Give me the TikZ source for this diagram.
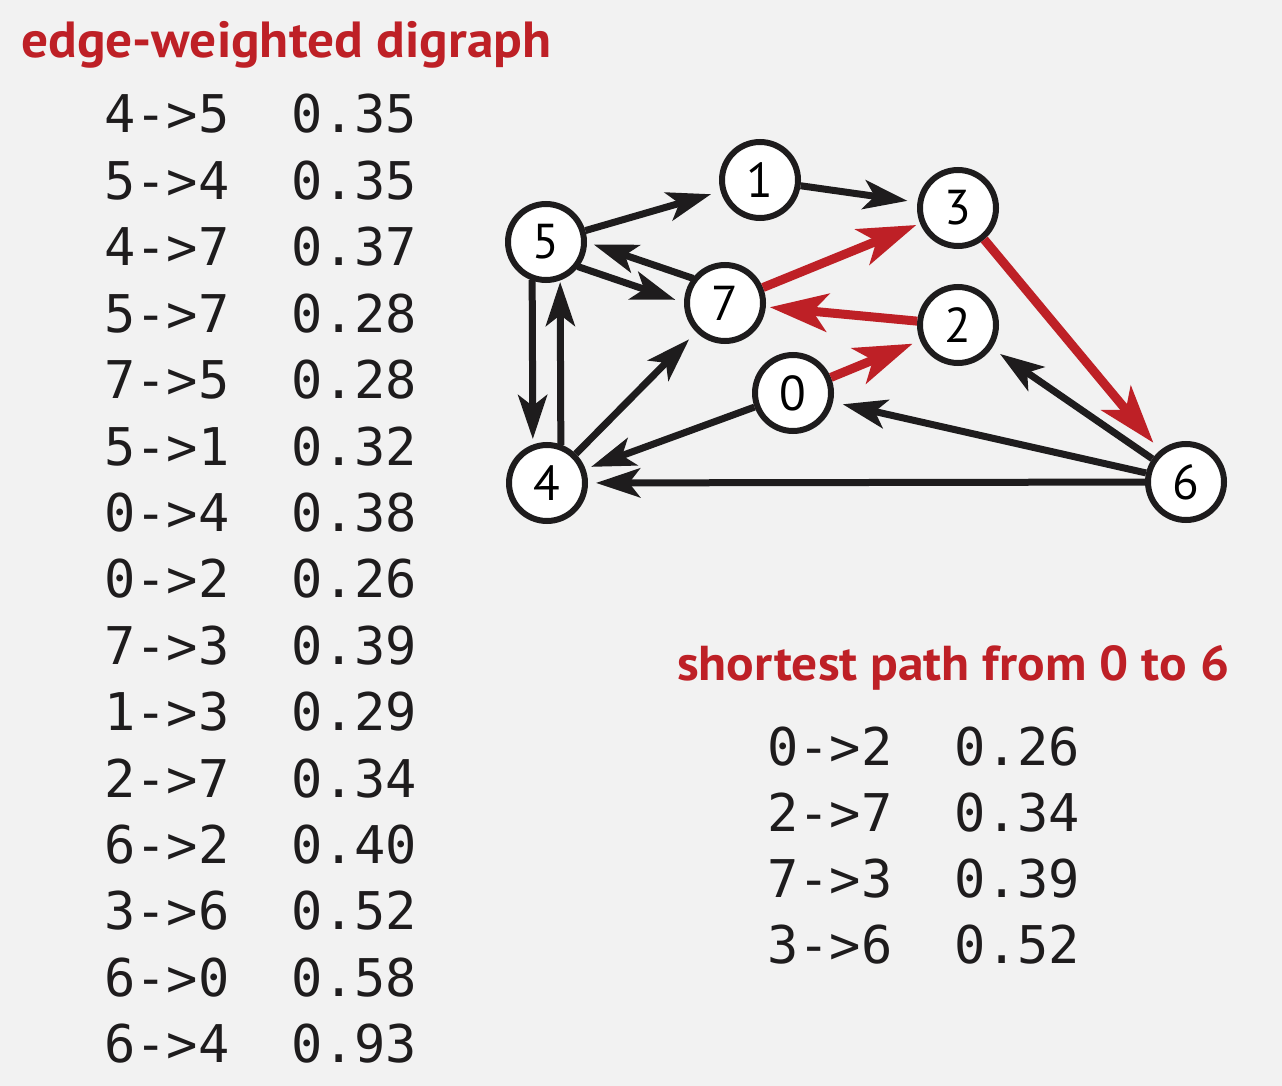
\documentclass[tikz,border=0pt]{standalone}
\usepackage{fontspec}
\setmainfont{PT Sans}
\newfontfamily\monofnt{DejaVu Sans Mono}
\newfontfamily\ttlfnt{PT Sans Bold}[FakeStretch=1.05]
\usetikzlibrary{arrows.meta,calc}
\definecolor{bgc}{RGB}{242,242,242}
\definecolor{redc}{RGB}{190,32,38}
\definecolor{inkc}{RGB}{30,28,29}
\tikzset{
  vtx/.style={circle,draw=inkc,fill=white,line width=6pt,minimum size=76pt,inner sep=0pt,
    font=\fontsize{49}{49}\selectfont},
  edg/.style={draw=inkc,line width=7pt,-{Stealth[length=44pt,width=29pt,inset=11pt]},shorten >=6pt},
  redg/.style={draw=redc,line width=9pt,-{Stealth[length=58pt,width=38pt,inset=15pt]},shorten >=6pt},
  ttl/.style={text=redc,anchor=base west,inner sep=0pt,font=\fontsize{50}{50}\selectfont\ttlfnt},
  row/.style={anchor=base west,inner sep=0pt,text=inkc,font=\fontsize{52}{52}\selectfont\monofnt}
}
\begin{document}
\begin{tikzpicture}[x=1pt,y=-1pt]
\fill[bgc] (0,0) rectangle (1282,1086);
\useasboundingbox (0,0) rectangle (1282,1086);

\node[ttl,font=\fontsize{50.8}{50}\selectfont\ttlfnt] (t1) at (21,58) {edge-weighted digraph};
\node[ttl,font=\fontsize{49}{50}\selectfont\ttlfnt] (t2) at (677,680) {shortest path from 0 to 6};

\foreach \a/\b [count=\i from 0] in {4->5/0.35,5->4/0.35,4->7/0.37,5->7/0.28,7->5/0.28,5->1/0.32,0->4/0.38,0->2/0.26,7->3/0.39,1->3/0.29,2->7/0.34,6->2/0.40,3->6/0.52,6->0/0.58,6->4/0.93}
  \node[row] (L\i) at (104,133+66.4*\i) {\a\hspace{62.6pt}\b};

\foreach \a/\b [count=\i from 0] in {0->2/0.26,2->7/0.34,7->3/0.39,3->6/0.52}
  \node[row] (R\i) at (767,765+66.3*\i) {\a\hspace{62.6pt}\b};

\node[vtx] (n0) at (793,393) {0};
\node[vtx] (n1) at (760,180) {1};
\node[vtx] (n2) at (958,325) {2};
\node[vtx] (n3) at (958,208) {3};
\node[vtx] (n4) at (547,483) {4};
\node[vtx] (n5) at (546,242) {5};
\node[vtx] (n6) at (1186,482) {6};
\node[vtx] (n7) at (725,303) {7};

\draw[edg,shorten >=10pt] (n5) -- (n1);
\draw[edg,shorten >=10pt] (n1) -- (n3);
\draw[edg,shorten <=38pt,shorten >=48pt] ($(n5.center)!13pt!-90:(n7.center)$) -- ($(n7.center)!13pt!90:(n5.center)$);
\draw[edg,shorten <=38pt,shorten >=46pt] ($(n7.center)!13pt!-90:(n5.center)$) -- ($(n5.center)!13pt!90:(n7.center)$);
\draw[edg,shorten <=38pt,shorten >=44pt] ($(n5.center)!14pt!-90:(n4.center)$) -- ($(n4.center)!14pt!90:(n5.center)$);
\draw[edg,shorten <=38pt,shorten >=40pt] ($(n4.center)!14pt!-90:(n5.center)$) -- ($(n5.center)!14pt!90:(n4.center)$);
\draw[edg,shorten >=10pt] (n4) -- (n7);
\draw[edg] (n0) -- (n4);
\draw[edg,shorten >=8pt] (n6) -- (n4);
\draw[edg,shorten >=10pt] (n6) -- (n0);
\draw[edg,shorten >=10pt] (n6) -- (n2);
\draw[redg,shorten >=8pt] (n0) -- (n2);
\draw[redg,shorten >=4pt] (n7) -- (n3);
\draw[redg,shorten >=4pt] (n2) -- (n7);
\draw[redg,shorten >=10pt] (n3) -- (n6);
\end{tikzpicture}
\end{document}
